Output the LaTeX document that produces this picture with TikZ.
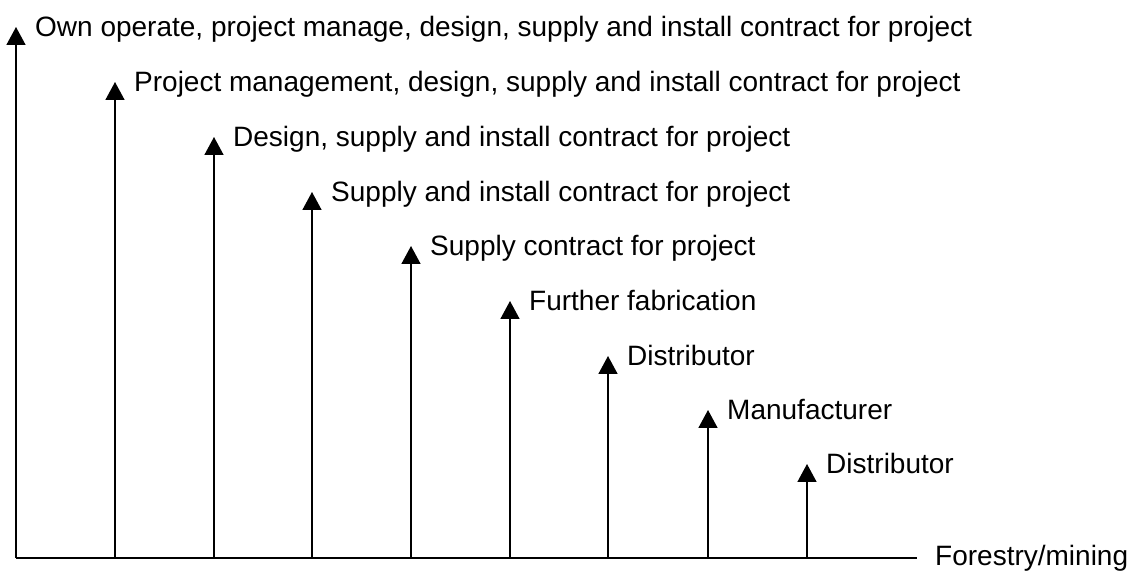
\documentclass[tikz,border=0pt]{standalone}
\usepackage{fontspec}
\setmainfont{Liberation Sans}
\usetikzlibrary{arrows.meta,calc}
\begin{document}
\begin{tikzpicture}[x=1pt,y=1pt,
  axis/.style={line width=1.6pt,black},
  riser/.style={line width=1.6pt,black,-{Triangle[width=19pt,length=18pt]}},
  tag/.style={anchor=base west,inner sep=0pt,font=\fontsize{28}{30}\selectfont}]
\useasboundingbox (0,0) rectangle (1145,570);
% baseline of the chart and its labelled end
\coordinate (o) at (16,12);
\coordinate (e) at (917,12);
\draw[axis] (o) -- (e);
\node[tag,anchor=west] (fm) at (935,12) {Forestry/mining};
% rising steps: x of each riser and y of its tip
\foreach \i/\x/\y/\t in {
  1/16/543/{Own operate, project manage, design, supply and install contract for project},
  2/115/488/{Project management, design, supply and install contract for project},
  3/214/433/{Design, supply and install contract for project},
  4/312/378/{Supply and install contract for project},
  5/411/324/{Supply contract for project},
  6/510/269/{Further fabrication},
  7/608/214/{Distributor},
  8/708/160/{Manufacturer},
  9/807/106/{Distributor}}{
  \coordinate (b\i) at (\x,12);
  \coordinate (t\i) at (\x,\y);
  \draw[riser] (b\i) -- (t\i);
  \node[tag] (l\i) at ($(t\i)+(19,-10)$) {\t};
}
\end{tikzpicture}
\end{document}
